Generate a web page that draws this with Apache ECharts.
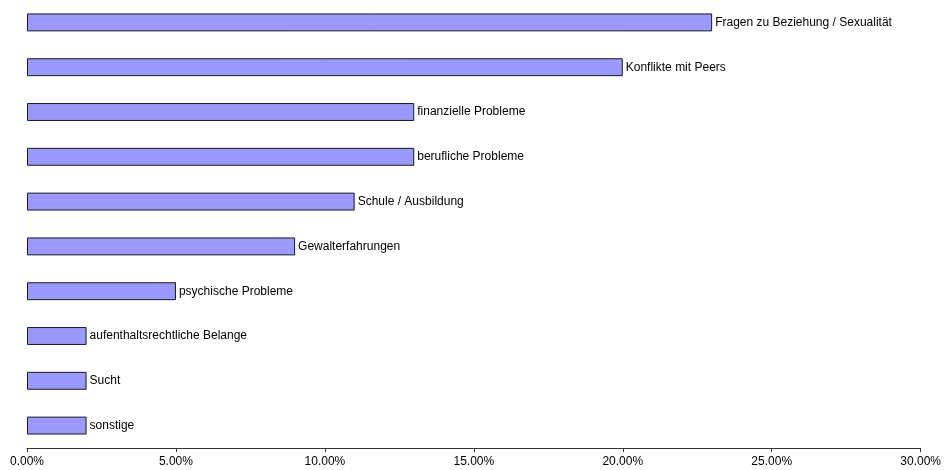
<!DOCTYPE html>
<html>
<head>
<meta charset="utf-8">
<script src="https://cdn.jsdelivr.net/npm/echarts@6/dist/echarts.min.js"></script>
<style>
  html, body { margin: 0; padding: 0; background: #fff; }
  #chart { width: 944px; height: 470px; }
</style>
</head>
<body>
<div id="chart"></div>
<script>
// Themen der Beratung, Anteil in Prozent (von oben nach unten)
const categories = [
  'Fragen zu Beziehung / Sexualität',
  'Konflikte mit Peers',
  'finanzielle Probleme',
  'berufliche Probleme',
  'Schule / Ausbildung',
  'Gewalterfahrungen',
  'psychische Probleme',
  'aufenthaltsrechtliche Belange',
  'Sucht',
  'sonstige'
];
const values = [23, 20, 13, 13, 11, 9, 5, 2, 2, 2];
const xTicks = [0, 5, 10, 15, 20, 25, 30];

const chart = echarts.init(document.getElementById('chart'), null, { renderer: 'canvas' });
chart.setOption({
  animation: false,
  backgroundColor: '#ffffff',
  textStyle: { fontFamily: 'Liberation Sans, Arial, sans-serif' },
  grid: { left: 27, right: 21, top: 0, bottom: 22, containLabel: false },
  xAxis: {
    type: 'value',
    min: xTicks[0],
    max: xTicks[xTicks.length - 1],
    interval: 5,
    axisLine: { show: true, lineStyle: { color: '#333333', width: 1 } },
    axisTick: { show: true, length: 4, lineStyle: { color: '#333333' } },
    splitLine: { show: false },
    axisLabel: {
      color: '#000000',
      fontSize: 12,
      margin: 8,
      formatter: v => v.toFixed(2) + '%'
    }
  },
  yAxis: {
    type: 'category',
    data: categories.slice().reverse(),
    axisLine: { show: false },
    axisTick: { show: false },
    axisLabel: { show: false },
    splitLine: { show: false }
  },
  series: [{
    type: 'bar',
    data: values.slice().reverse(),
    barWidth: '40%',
    itemStyle: { color: '#9999ff', borderColor: '#1a1a1a', borderWidth: 1 },
    label: {
      show: true,
      position: 'right',
      distance: 3,
      color: '#000000',
      fontSize: 12,
      formatter: p => categories[categories.length - 1 - p.dataIndex]
    }
  }]
});
</script>
</body>
</html>
